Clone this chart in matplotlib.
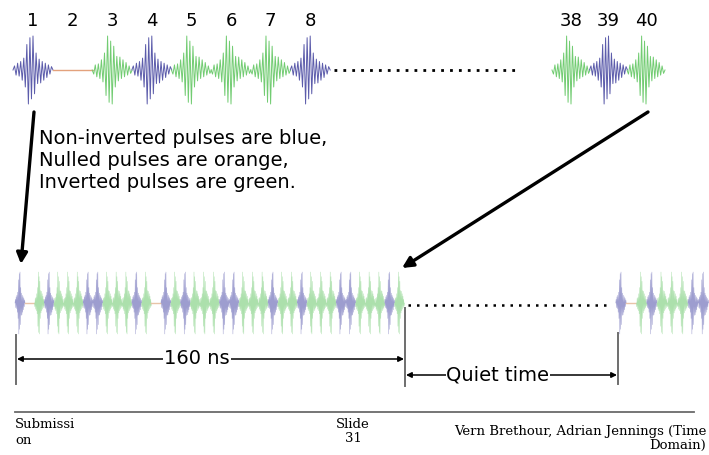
import numpy as np
import matplotlib.pyplot as plt

# one pulse, sampled across its width (positive = non-inverted)
pulse_shape = [0.00, 0.12, -0.15, 0.20, -0.18, 0.25, -0.30, 0.35, -0.50, 0.75,
               -1.00, 0.95, -0.85, 1.00, -0.70, 0.50, -0.40, 0.32, -0.38, 0.25,
               -0.30, 0.20, -0.22, 0.15, -0.12, 0.10, 0.00]

# B = non-inverted, N = nulled, G = inverted
top_labels_a = ['1', '2', '3', '4', '5', '6', '7', '8']
top_kinds_a = ['B', 'N', 'G', 'B', 'G', 'G', 'G', 'B']
top_labels_b = ['38', '39', '40']
top_kinds_b = ['G', 'B', 'G']
frame_kinds = list("BNGBGGGBBGGGBG" "NBGBGGGBBGGGBG" "GBGGGBBGGGBG")
next_frame_kinds = list("BNGBGGGBB")

text_lines = ["Non-inverted pulses are blue,",
              "Nulled pulses are orange,",
              "Inverted pulses are green."]
frame_label = "160 ns"
quiet_label = "Quiet time"

top_colors = {'B': '#5c5cab', 'G': '#72cc72', 'N': '#e3a27c'}
low_colors = {'B': '#9d9dcf', 'G': '#ace0ac', 'N': '#e8c4a8'}


def draw_train(ax, kinds, x0, step, y0, width, amp, colors, lw):
    shape = np.array(pulse_shape)
    xs = np.linspace(-width / 2, width / 2, shape.size)
    for i, k in enumerate(kinds):
        xc = x0 + i * step
        if k == 'N':
            ax.plot([xc - width / 2, xc + width / 2], [y0, y0],
                    color=colors['N'], lw=1.0, zorder=2)
            continue
        sign = 1 if k == 'B' else -1
        ax.plot(xc + xs, y0 - sign * amp * shape, color=colors[k],
                lw=lw, zorder=2)


fig = plt.figure(figsize=(7.09, 4.55), dpi=100)
ax = fig.add_axes([0, 0, 1, 1])
ax.set_xlim(0, 709)
ax.set_ylim(455, 0)
ax.axis('off')

# top row: first eight pulses and last three
draw_train(ax, top_kinds_a, 33, 39.6, 70, 40, 34, top_colors, 0.7)
draw_train(ax, top_kinds_b, 571, 37.5, 70, 38, 34, top_colors, 0.7)
for i, lab in enumerate(top_labels_a):
    ax.text(33 + i * 39.6, 21, lab, fontsize=13, ha='center', va='center')
for i, lab in enumerate(top_labels_b):
    ax.text(571 + i * 37.5, 21, lab, fontsize=13, ha='center', va='center')
ax.plot([334, 520], [70, 70], color='black', lw=2, ls=(0, (1, 2.2)))

ax.text(39, 161, "\n".join(text_lines), fontsize=14, va='center',
        ha='left', linespacing=1.2)

# big arrows
ax.annotate('', xy=(21, 264), xytext=(34, 112),
            arrowprops=dict(arrowstyle='-|>', lw=2.4, color='black',
                            mutation_scale=16, shrinkA=0, shrinkB=0))
ax.annotate('', xy=(402, 268), xytext=(648, 112),
            arrowprops=dict(arrowstyle='-|>', lw=2.4, color='black',
                            mutation_scale=16, shrinkA=0, shrinkB=0))

# bottom row: a 40-pulse frame, quiet time, next frame
draw_train(ax, frame_kinds, 20, 9.73, 303, 10, 31, low_colors, 0.35)
draw_train(ax, next_frame_kinds, 621, 10.3, 303, 10.5, 31, low_colors, 0.35)
ax.plot([408, 606], [305, 305], color='black', lw=1.8, ls=(0, (1, 2.4)))

for x, y1, y2 in [(16, 335, 384), (405, 308, 386), (618, 333, 384)]:
    ax.plot([x, x], [y1, y2], color='#6e6e6e', lw=1.4)

ax.annotate('', xy=(17, 359), xytext=(404, 359),
            arrowprops=dict(arrowstyle='<|-|>', lw=1.1, color='black',
                            mutation_scale=8, shrinkA=0, shrinkB=0))
ax.text(197, 359, frame_label, fontsize=14, ha='center', va='center',
        bbox=dict(facecolor='white', edgecolor='none', pad=0.5))
ax.annotate('', xy=(406, 375), xytext=(617, 375),
            arrowprops=dict(arrowstyle='<|-|>', lw=1.1, color='black',
                            mutation_scale=8, shrinkA=0, shrinkB=0))
ax.text(498, 375, quiet_label, fontsize=14, ha='center', va='center',
        bbox=dict(facecolor='white', edgecolor='none', pad=0.5))

# footer
ax.plot([15, 694], [412, 412], color='#6a6a6a', lw=1.3)
ft = dict(fontsize=9.5, family='DejaVu Serif', va='center')
ax.text(15, 425, "Submissi", ha='left', **ft)
ax.text(15, 440, "on", ha='left', **ft)
ax.text(353, 425, "Slide", ha='center', **ft)
ax.text(353, 439, "31", ha='center', **ft)
ax.text(706, 431, "Vern Brethour, Adrian Jennings (Time", ha='right', **ft)
ax.text(706, 445, "Domain)", ha='right', **ft)

fig.savefig('out.png', dpi=100)
